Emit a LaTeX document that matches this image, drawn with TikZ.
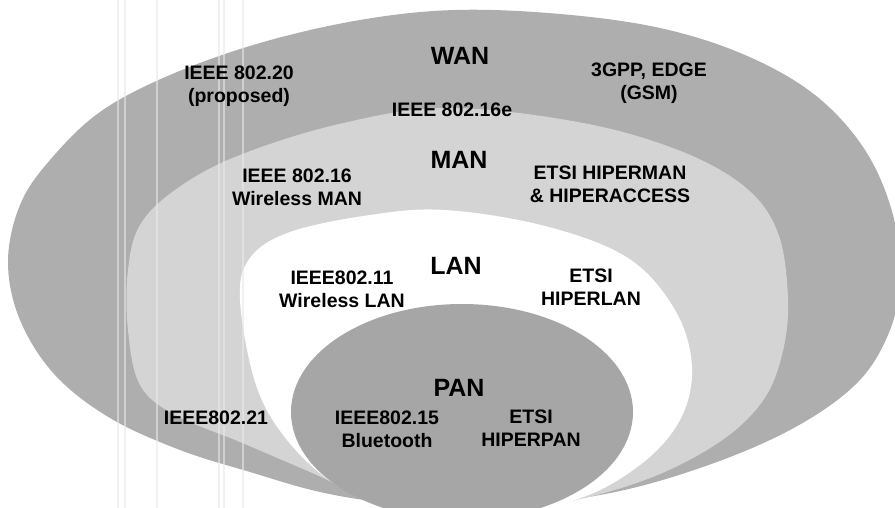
\documentclass[tikz,border=0pt]{standalone}
\usepackage{fontspec}
\setmainfont{Liberation Sans}
\definecolor{wangray}{RGB}{174,174,174}
\definecolor{mangray}{RGB}{212,212,212}
\definecolor{pangray}{RGB}{166,166,166}
\definecolor{scanline}{RGB}{232,232,232}
\tikzset{
  small/.style={font=\bfseries\fontsize{19.5}{23}\selectfont, align=center, inner sep=0pt, text=black},
  big/.style={font=\bfseries\fontsize{25}{28}\selectfont, inner sep=0pt, text=black},
  zone/.style={draw=none},
  artefact/.style={draw=scanline, line width=1.6pt, opacity=0.6}
}
\begin{document}
\begin{tikzpicture}[x=1pt,y=-1pt]
\useasboundingbox (0,0) rectangle (895,508);
\fill[white] (0,0) rectangle (895,508);
\begin{scope}
\clip (0,0) rectangle (895,508);
% WAN area
\fill[zone, wangray] plot[smooth cycle, tension=0.6] coordinates {
 (8,262) (20,205) (50,160) (100,112) (170,75) (260,43) (360,20) (455,10)
 (560,14) (660,28) (745,55) (815,95) (865,150) (893,215) (900,280) (888,335)
 (855,385) (790,430) (700,468) (600,495) (480,508) (390,503) (320,492)
 (250,472) (180,450) (110,418) (55,375) (20,320)};
% MAN area
\fill[zone, mangray] plot[smooth cycle, tension=0.6] coordinates {
 (128,270) (140,225) (175,190) (235,157) (335,125) (445,108) (578,122)
 (678,150) (745,187) (778,233) (788,300) (782,355) (762,402) (718,443)
 (645,480) (550,505) (450,512) (375,500) (310,472) (240,442) (175,415)
 (140,385) (128,330)};
% LAN area
\fill[zone, white] plot[smooth cycle, tension=0.6] coordinates {
 (240,300) (250,258) (290,232) (370,215) (445,210) (545,226) (628,258)
 (675,310) (692,367) (680,420) (640,465) (575,500) (480,516) (395,508)
 (335,484) (287,440) (256,385)};
% PAN area
\fill[zone, pangray] (462,412) ellipse [x radius=171, y radius=108];
% scanner stripes
\foreach \sx in {118,125,157,219,224,243}{
  \draw[artefact] (\sx,0) -- (\sx,508);
}
\end{scope}
% labels
\node[big] (wan) at (460,56) {WAN};
\node[small] (ieee20) at (239,86) {IEEE 802.20\\(proposed)};
\node[small] (gpp) at (649,83) {3GPP, EDGE\\(GSM)};
\node[small] (ieee16e) at (452,110) {IEEE 802.16e};
\node[big] (man) at (459,160) {MAN};
\node[small] (ieee16) at (297,187) {IEEE 802.16\\Wireless MAN};
\node[small] (hiperman) at (610,184) {ETSI HIPERMAN\\\& HIPERACCESS};
\node[big] (lan) at (456,266) {LAN};
\node[small] (ieee11) at (342,289) {IEEE802.11\\Wireless LAN};
\node[small] (hiperlan) at (591,287) {ETSI\\HIPERLAN};
\node[big] (pan) at (459,388) {PAN};
\node[small] (ieee21) at (216,418) {IEEE802.21};
\node[small] (ieee15) at (387,429) {IEEE802.15\\Bluetooth};
\node[small] (hiperpan) at (531,428) {ETSI\\HIPERPAN};
\end{tikzpicture}
\end{document}
